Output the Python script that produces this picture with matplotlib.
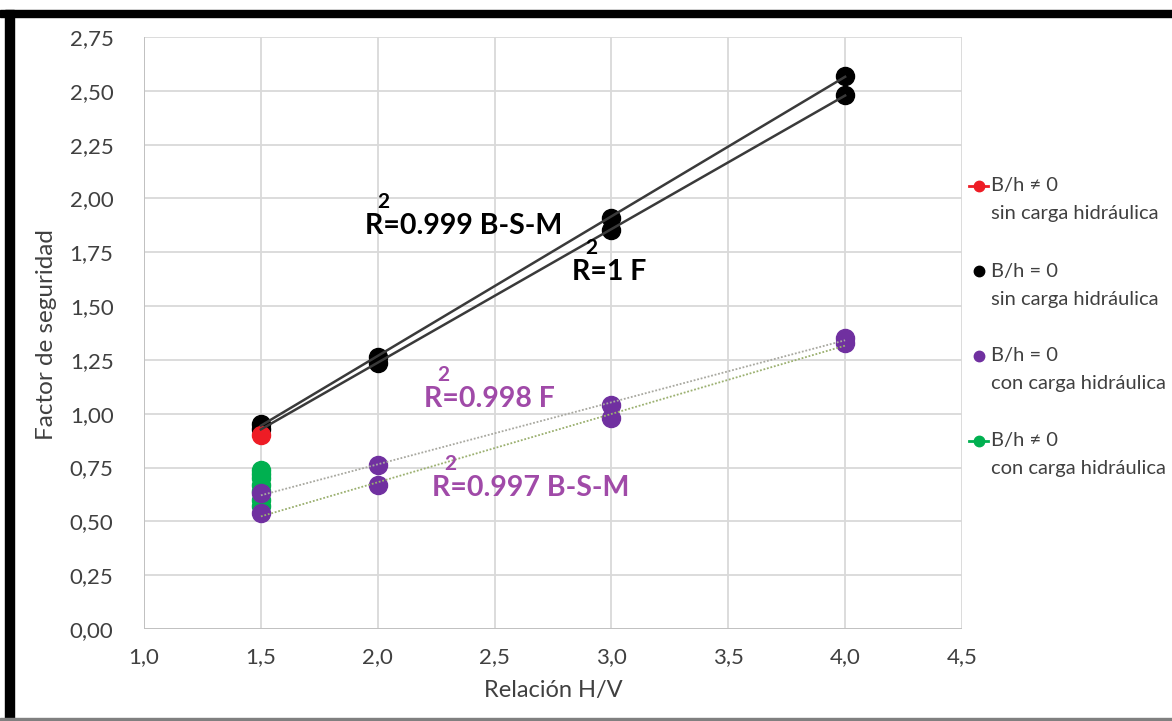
import numpy as np
import matplotlib
matplotlib.use("Agg")
import matplotlib.pyplot as plt
from matplotlib.lines import Line2D
from matplotlib.patches import Rectangle

plt.rcParams['font.family'] = ['Lato', 'DejaVu Sans']

# datos
x_sin = [1.5, 2.0, 3.0, 4.0]
y_bsm = [0.95, 1.265, 1.91, 2.57]    # B/h = 0 sin carga, B-S-M
y_f = [0.93, 1.235, 1.855, 2.48]     # B/h = 0 sin carga, F
x_con = [1.5, 2.0, 3.0, 4.0]
y_con_f = [0.63, 0.76, 1.04, 1.35]   # B/h = 0 con carga, F
y_con_bsm = [0.54, 0.67, 0.98, 1.33] # B/h = 0 con carga, B-S-M
x_rojo = [1.5]
y_rojo = [0.90]
x_verde = [1.5, 1.5, 1.5, 1.5, 1.5, 1.5, 1.5]
y_verde = [0.74, 0.72, 0.70, 0.67, 0.64, 0.60, 0.57]

xticks = [1.0, 1.5, 2.0, 2.5, 3.0, 3.5, 4.0, 4.5]
yticks = [0.0, 0.25, 0.5, 0.75, 1.0, 1.25, 1.5, 1.75, 2.0, 2.25, 2.5, 2.75]

leyenda = [("B/h \u2260 0", "sin carga hidráulica", "#ee1c25", True),
           ("B/h = 0", "sin carga hidráulica", "black", False),
           ("B/h = 0", "con carga hidráulica", "#7030a0", False),
           ("B/h \u2260 0", "con carga hidráulica", "#00b050", True)]

fig = plt.figure(figsize=(11.72, 7.21), dpi=100)
ax = fig.add_axes([0.1229, 0.1276, 0.8208 - 0.1229, 0.9487 - 0.1276])

ms = 13
ax.plot(x_verde, y_verde, 'o', color='#00b050', ms=ms, zorder=3)
ax.plot(x_con, y_con_f, 'o', color='#7030a0', ms=ms, zorder=4)
ax.plot(x_con, y_con_bsm, 'o', color='#7030a0', ms=ms, zorder=4)
ax.plot(x_sin, y_bsm, 'o', color='black', ms=ms, zorder=4)
ax.plot(x_sin, y_f, 'o', color='black', ms=ms, zorder=4)
ax.plot(x_rojo, y_rojo, 'o', color='#ee1c25', ms=ms, zorder=5)

# lineas de tendencia
xt = np.array([1.5, 4.0])
for yy in (y_bsm, y_f):
    p = np.polyfit(x_sin, yy, 1)
    ax.plot(xt, np.polyval(p, xt), '-', color='#3a3a3a', lw=1.8, zorder=6)
for yy, c in ((y_con_f, '#a8a8a0'), (y_con_bsm, '#9bb070')):
    p = np.polyfit(x_con, yy, 1)
    ax.plot(xt, np.polyval(p, xt), color=c, lw=1.3, ls=(0, (1, 1)), zorder=6)

def r2(x, y, texto, color):
    ax.text(x, y, "R" + texto, color=color, fontsize=20.5, fontweight='bold',
            va='center', ha='left', zorder=7)
    ax.text(x + 0.054, y + 0.112, "2", color=color, fontsize=15, fontweight='bold',
            va='center', ha='left', zorder=7)

r2(1.944, 1.870, "=0.999 B-S-M", 'black')
r2(2.833, 1.660, "=1 F", 'black')
r2(2.20, 1.067, "=0.998 F", '#a04aa8')
r2(2.231, 0.655, "=0.997 B-S-M", '#a04aa8')

ax.set_xlim(1.0, 4.5)
ax.set_ylim(0, 2.75)
ax.set_xticks(xticks)
ax.set_yticks(yticks)
ax.set_xticklabels([f"{v:.1f}".replace('.', ',') for v in xticks])
ax.set_yticklabels([f"{v:.2f}".replace('.', ',') for v in yticks])
ax.tick_params(length=0, labelsize=16, labelcolor='#404040')
ax.tick_params(axis='y', pad=22)
ax.tick_params(axis='x', pad=13)
ax.grid(True, color='#d9d9d9', lw=1.3)
ax.set_axisbelow(True)
for s in ax.spines.values():
    s.set_visible(False)
ax.axhline(0, color='#bfbfbf', lw=1.3, zorder=1)
ax.axvline(1.0, color='#bfbfbf', lw=1.3, zorder=1)

fig.text(553 / 1172, 1 - 691 / 721, "Relación H/V", ha='center', va='center',
         fontsize=17, color='#404040')
fig.text(47 / 1172, 1 - 335 / 721, "Factor de seguridad", ha='center', va='center',
         rotation=90, fontsize=17.5, color='#404040')

# leyenda
y0 = 186
for i, (l1, l2, c, linea) in enumerate(leyenda):
    yp = 1 - (y0 + i * 85) / 721
    if linea:
        fig.add_artist(Line2D([969 / 1172, 988 / 1172], [yp, yp], color=c, lw=2))
    fig.add_artist(Line2D([978.5 / 1172], [yp], marker='o', color=c, ms=7.5))
    fig.text(991 / 1172, yp, l1, fontsize=14.5, color='#404040', va='center')
    fig.text(991 / 1172, yp - 28 / 721, l2, fontsize=14.5, color='#404040', va='center')

# marco
fig.patches.append(Rectangle((0, 1 - 17 / 721), 1, 7 / 721, transform=fig.transFigure,
                             color='black', zorder=10))
fig.patches.append(Rectangle((5 / 1172, 0), 9 / 1172, 1 - 10 / 721, transform=fig.transFigure,
                             color='black', zorder=10))
fig.patches.append(Rectangle((0, 0), 1, 3 / 721, transform=fig.transFigure,
                             color='#808080', zorder=10))

fig.savefig("out.png", dpi=100)
